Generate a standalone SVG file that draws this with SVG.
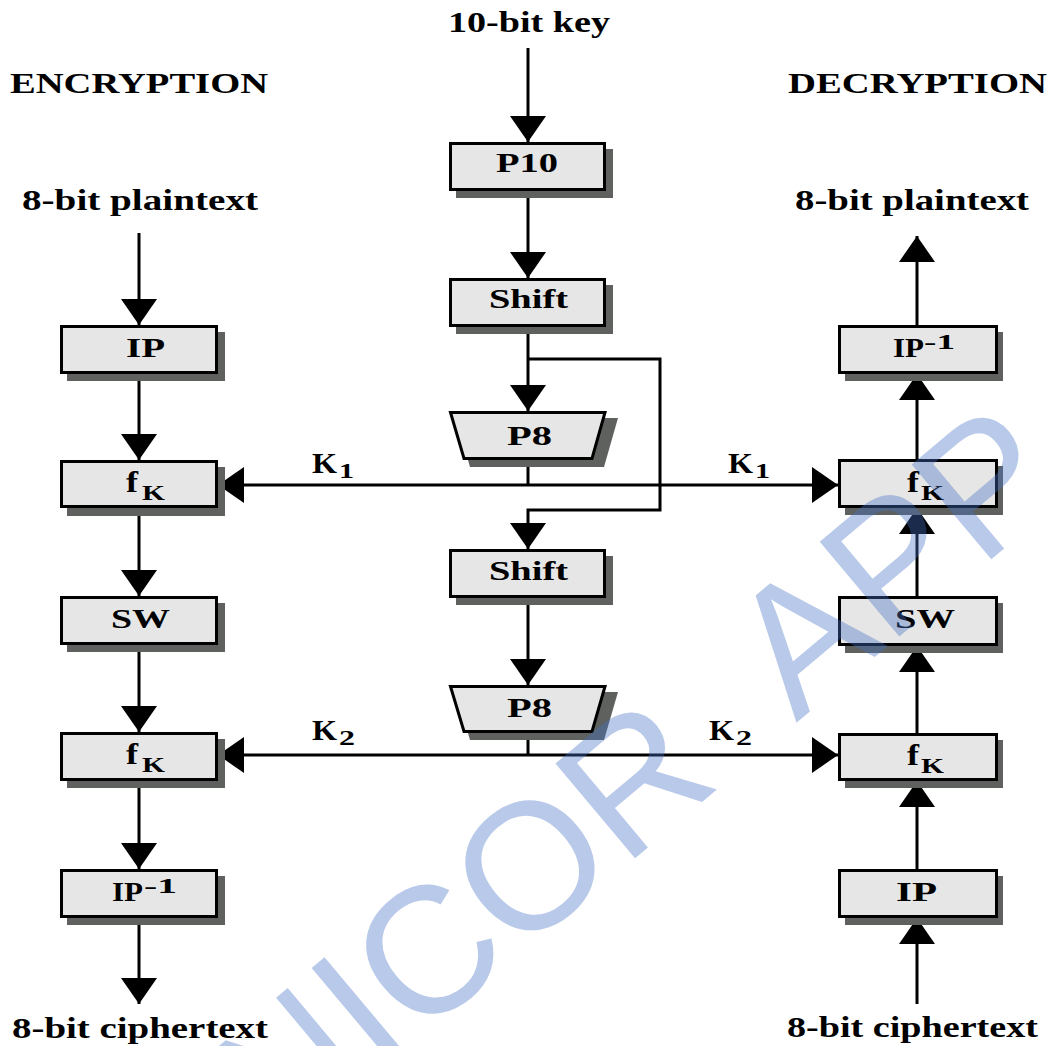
<svg xmlns="http://www.w3.org/2000/svg" width="1054" height="1046" viewBox="0 0 1054 1046">
  <defs>
    <style>
      .lbl { font-family: "Liberation Serif", "Times New Roman", serif; font-weight: bold; fill: #000; }
      .big { font-size: 30px; }
      .box-t { font-size: 27px; }
      .sub { font-size: 21px; }
      .box { fill: #e6e6e6; stroke: #000; stroke-width: 3; }
      .shadow { fill: #5e615e; }
      .wire { fill: none; stroke: #000; stroke-width: 3; }
      .arr { marker-end: url(#ah); }
      .mark { font-family: "Liberation Sans", Arial, sans-serif; font-size: 180px; word-spacing: 55px; fill: #4472c4; fill-opacity: 0.38; }
    </style>
    <marker id="ah" viewBox="0 0 26 36" refX="26" refY="18" markerWidth="26" markerHeight="36" markerUnits="userSpaceOnUse" orient="auto">
      <path d="M0,0 L26,18 L0,36 Z" fill="#000"/>
    </marker>
  </defs>

  <rect width="1054" height="1046" fill="#fff"/>

  <!-- headings -->
  <g id="headings">
    <text class="lbl big" x="448" y="32" textLength="162" lengthAdjust="spacingAndGlyphs">10-bit key</text>
    <text class="lbl big" x="10" y="93" textLength="258" lengthAdjust="spacingAndGlyphs">ENCRYPTION</text>
    <text class="lbl big" x="788" y="93" textLength="259" lengthAdjust="spacingAndGlyphs">DECRYPTION</text>
    <text class="lbl big" x="22" y="210" textLength="236" lengthAdjust="spacingAndGlyphs">8-bit plaintext</text>
    <text class="lbl big" x="795" y="210" textLength="234" lengthAdjust="spacingAndGlyphs">8-bit plaintext</text>
    <text class="lbl big" x="12" y="1038" textLength="256" lengthAdjust="spacingAndGlyphs">8-bit ciphertext</text>
    <text class="lbl big" x="787" y="1037" textLength="251" lengthAdjust="spacingAndGlyphs">8-bit ciphertext</text>
  </g>

  <!-- connectors -->
  <g id="connectors">
    <!-- key schedule -->
    <line class="wire arr" x1="528" y1="48" x2="528" y2="142"/>
    <line class="wire arr" x1="528" y1="191" x2="528" y2="278"/>
    <line class="wire arr" x1="528" y1="327" x2="528" y2="411"/>
    <polyline class="wire arr" points="528,359 660,359 660,510 528,510 528,549"/>
    <line class="wire" x1="528" y1="460" x2="528" y2="485"/>
    <line class="wire arr" x1="528" y1="485" x2="218" y2="485"/>
    <line class="wire arr" x1="528" y1="485" x2="838" y2="485"/>
    <line class="wire arr" x1="528" y1="597" x2="528" y2="685"/>
    <line class="wire" x1="528" y1="733" x2="528" y2="755"/>
    <line class="wire arr" x1="528" y1="755" x2="218" y2="755"/>
    <line class="wire arr" x1="528" y1="755" x2="838" y2="755"/>
    <!-- encryption path -->
    <line class="wire arr" x1="139" y1="233" x2="139" y2="325"/>
    <line class="wire arr" x1="139" y1="374" x2="139" y2="460"/>
    <line class="wire arr" x1="139" y1="508" x2="139" y2="596"/>
    <line class="wire arr" x1="139" y1="645" x2="139" y2="732"/>
    <line class="wire arr" x1="139" y1="781" x2="139" y2="869"/>
    <line class="wire arr" x1="139" y1="918" x2="139" y2="1004"/>
    <!-- decryption path -->
    <line class="wire arr" x1="917" y1="1004" x2="917" y2="918"/>
    <line class="wire arr" x1="917" y1="869" x2="917" y2="781"/>
    <line class="wire arr" x1="917" y1="733" x2="917" y2="646"/>
    <line class="wire arr" x1="917" y1="596" x2="917" y2="508"/>
    <line class="wire arr" x1="917" y1="459" x2="917" y2="374"/>
    <line class="wire arr" x1="917" y1="325" x2="917" y2="236"/>
  </g>

  <!-- key schedule nodes -->
  <g id="p10">
    <rect class="shadow" x="456" y="149" width="157" height="49"/>
    <rect class="box" x="450.5" y="143.5" width="154" height="46"/>
    <text class="lbl box-t" x="496" y="172" textLength="62" lengthAdjust="spacingAndGlyphs">P10</text>
  </g>
  <g id="shift1">
    <rect class="shadow" x="456" y="285" width="157" height="49"/>
    <rect class="box" x="450.5" y="279.5" width="154" height="46"/>
    <text class="lbl box-t" x="489" y="308" textLength="79" lengthAdjust="spacingAndGlyphs">Shift</text>
  </g>
  <g id="p8a">
    <polygon class="shadow" points="456,418 618,418 604,467 470,467"/>
    <polygon class="box" points="450.5,412.5 605,412.5 592,458.5 464,458.5"/>
    <text class="lbl box-t" x="507" y="445" textLength="45" lengthAdjust="spacingAndGlyphs">P8</text>
  </g>
  <g id="shift2">
    <rect class="shadow" x="456" y="556" width="157" height="49"/>
    <rect class="box" x="450.5" y="550.5" width="154" height="46"/>
    <text class="lbl box-t" x="489" y="580" textLength="79" lengthAdjust="spacingAndGlyphs">Shift</text>
  </g>
  <g id="p8b">
    <polygon class="shadow" points="456,692 618,692 604,740 470,740"/>
    <polygon class="box" points="450.5,686.5 605,686.5 592,731.5 464,731.5"/>
    <text class="lbl box-t" x="507" y="717" textLength="45" lengthAdjust="spacingAndGlyphs">P8</text>
  </g>

  <!-- subkey labels -->
  <g id="k1-left">
    <text class="lbl big" x="312" y="473" textLength="25" lengthAdjust="spacingAndGlyphs">K</text>
    <text class="lbl sub" x="339" y="478" textLength="15" lengthAdjust="spacingAndGlyphs">1</text>
  </g>
  <g id="k1-right">
    <text class="lbl big" x="728" y="473" textLength="25" lengthAdjust="spacingAndGlyphs">K</text>
    <text class="lbl sub" x="755" y="478" textLength="15" lengthAdjust="spacingAndGlyphs">1</text>
  </g>
  <g id="k2-left">
    <text class="lbl big" x="312" y="740" textLength="25" lengthAdjust="spacingAndGlyphs">K</text>
    <text class="lbl sub" x="339" y="745" textLength="16" lengthAdjust="spacingAndGlyphs">2</text>
  </g>
  <g id="k2-right">
    <text class="lbl big" x="709" y="740" textLength="25" lengthAdjust="spacingAndGlyphs">K</text>
    <text class="lbl sub" x="736" y="745" textLength="16" lengthAdjust="spacingAndGlyphs">2</text>
  </g>

  <!-- encryption nodes -->
  <g id="enc-ip">
    <rect class="shadow" x="67" y="332" width="158" height="49"/>
    <rect class="box" x="61.5" y="326.5" width="155" height="46"/>
    <text class="lbl box-t" x="126" y="357" textLength="39" lengthAdjust="spacingAndGlyphs">IP</text>
  </g>
  <g id="enc-fk1">
    <rect class="shadow" x="67" y="467" width="158" height="49"/>
    <rect class="box" x="61.5" y="461.5" width="155" height="45"/>
    <text class="lbl big" x="126" y="492" textLength="12" lengthAdjust="spacingAndGlyphs">f</text>
    <text class="lbl sub" x="142" y="500" textLength="23" lengthAdjust="spacingAndGlyphs">K</text>
  </g>
  <g id="enc-sw">
    <rect class="shadow" x="67" y="603" width="158" height="49"/>
    <rect class="box" x="61.5" y="597.5" width="155" height="46"/>
    <text class="lbl box-t" x="111" y="628" textLength="59" lengthAdjust="spacingAndGlyphs">SW</text>
  </g>
  <g id="enc-fk2">
    <rect class="shadow" x="67" y="739" width="158" height="49"/>
    <rect class="box" x="61.5" y="733.5" width="155" height="46"/>
    <text class="lbl big" x="126" y="764" textLength="12" lengthAdjust="spacingAndGlyphs">f</text>
    <text class="lbl sub" x="142" y="772" textLength="23" lengthAdjust="spacingAndGlyphs">K</text>
  </g>
  <g id="enc-ipinv">
    <rect class="shadow" x="67" y="876" width="158" height="49"/>
    <rect class="box" x="61.5" y="870.5" width="155" height="46"/>
    <text class="lbl box-t" x="112" y="901" textLength="31" lengthAdjust="spacingAndGlyphs">IP</text>
    <text class="lbl sub" x="144" y="893" textLength="33" lengthAdjust="spacingAndGlyphs">-1</text>
  </g>

  <!-- decryption nodes -->
  <g id="dec-ipinv">
    <rect class="shadow" x="845" y="332" width="158" height="49"/>
    <rect class="box" x="839.5" y="326.5" width="157" height="46"/>
    <text class="lbl box-t" x="893" y="357" textLength="31" lengthAdjust="spacingAndGlyphs">IP</text>
    <text class="lbl sub" x="924" y="349" textLength="31" lengthAdjust="spacingAndGlyphs">-1</text>
  </g>
  <g id="dec-fk1">
    <rect class="shadow" x="845" y="466" width="158" height="49"/>
    <rect class="box" x="839.5" y="460.5" width="157" height="46"/>
    <text class="lbl big" x="907" y="492" textLength="12" lengthAdjust="spacingAndGlyphs">f</text>
    <text class="lbl sub" x="921" y="500" textLength="23" lengthAdjust="spacingAndGlyphs">K</text>
  </g>
  <g id="dec-sw">
    <rect class="shadow" x="845" y="603" width="158" height="50"/>
    <rect class="box" x="839.5" y="597.5" width="157" height="47"/>
    <text class="lbl box-t" x="895" y="628" textLength="60" lengthAdjust="spacingAndGlyphs">SW</text>
  </g>
  <g id="dec-fk2">
    <rect class="shadow" x="845" y="740" width="158" height="48"/>
    <rect class="box" x="839.5" y="734.5" width="157" height="45"/>
    <text class="lbl big" x="907" y="765" textLength="12" lengthAdjust="spacingAndGlyphs">f</text>
    <text class="lbl sub" x="921" y="773" textLength="23" lengthAdjust="spacingAndGlyphs">K</text>
  </g>
  <g id="dec-ip">
    <rect class="shadow" x="845" y="876" width="158" height="49"/>
    <rect class="box" x="839.5" y="870.5" width="157" height="46"/>
    <text class="lbl box-t" x="896" y="901" textLength="41" lengthAdjust="spacingAndGlyphs">IP</text>
  </g>

  <!-- translucent watermark over the drawing -->
  <g id="watermark">
    <text class="mark" transform="translate(279 1157) rotate(-40)">NICOR APP</text>
  </g>
</svg>
